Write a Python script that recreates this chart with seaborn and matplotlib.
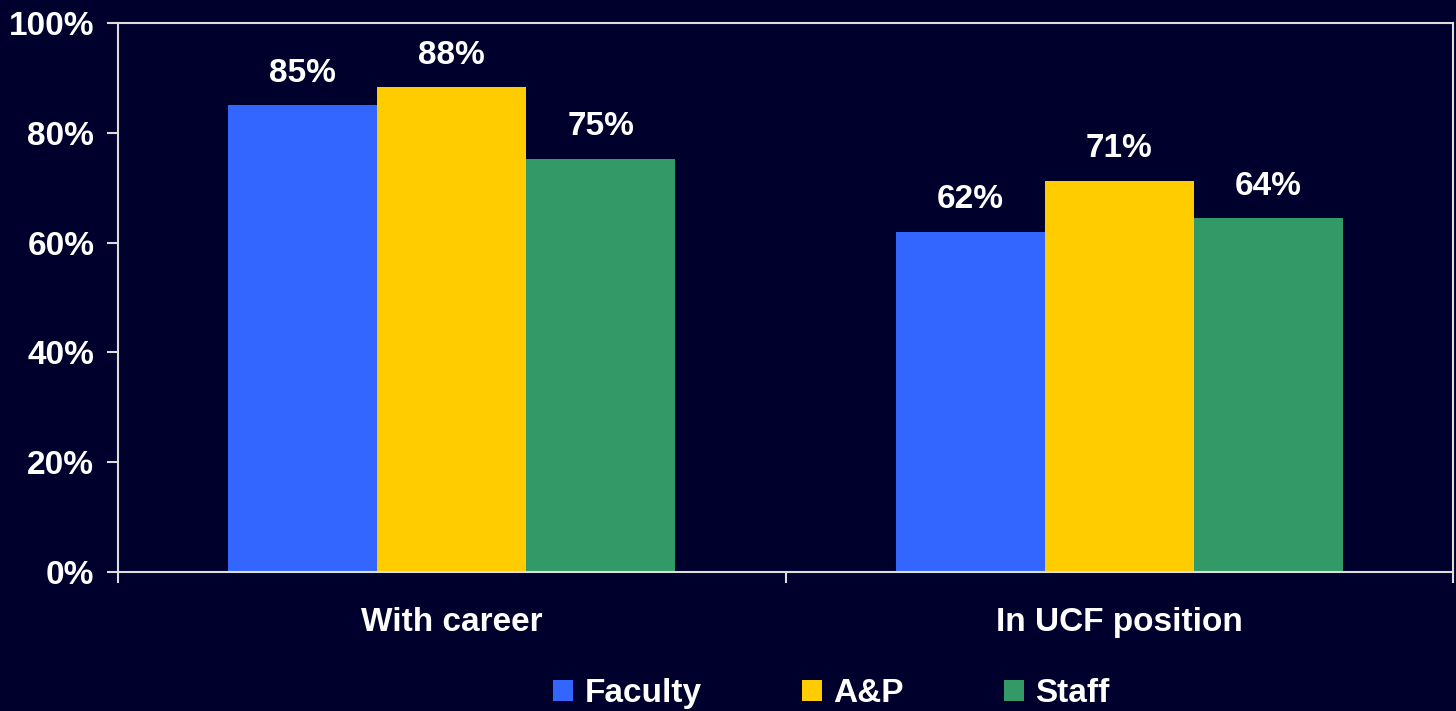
import matplotlib
matplotlib.use("Agg")
import matplotlib.pyplot as plt
import pandas as pd
import seaborn as sns
from matplotlib.ticker import PercentFormatter, FixedLocator

# Dados
groups = ["With career", "In UCF position"]
series = ["Faculty", "A&P", "Staff"]
faculty = [85.0, 61.9]
ap = [88.3, 71.2]
staff = [75.2, 64.4]
colors = ["#3366FF", "#FFCC00", "#339966"]

df = pd.DataFrame({
    "group": groups * 3,
    "series": [s for s in series for _ in groups],
    "value": faculty + ap + staff,
})

sns.set_theme(style="dark")
bg = "#00002C"
fg = "white"
fs = 24
plt.rcParams["font.family"] = ["Liberation Sans", "DejaVu Sans"]
plt.rcParams["font.weight"] = "bold"

fig = plt.figure(figsize=(14.56, 7.11), dpi=100, facecolor=bg)
ax = fig.add_axes([0.0810, 0.1955, 0.9170, 0.7722])
ax.set_facecolor(bg)

sns.barplot(data=df, x="group", y="value", hue="series", order=groups,
            hue_order=series, palette=colors, width=0.669, saturation=1,
            linewidth=0, ax=ax)

# Rótulos acima das barras
for cont in ax.containers:
    ax.bar_label(cont, labels=[f"{v:.0f}%" for v in cont.datavalues],
                 padding=12, color=fg, fontsize=fs, fontweight="bold")

ax.set_ylim(0, 100)
ax.set_xlim(-0.5, 1.5)
ax.yaxis.set_major_formatter(PercentFormatter(decimals=0))
ax.set_yticks([0, 20, 40, 60, 80, 100])
ax.grid(False)

# Ticks do eixo x nas divisões entre categorias, rótulos no centro
ax.xaxis.set_major_locator(FixedLocator([-0.5, 0.5, 1.5]))
ax.set_xticklabels(["", "", ""])
ax.xaxis.set_minor_locator(FixedLocator([0, 1]))
ax.set_xticklabels(groups, minor=True)
ax.tick_params(axis="x", which="major", length=8, width=1.5, color="#DDDDDD",
               direction="out", bottom=True)
ax.tick_params(axis="x", which="minor", length=0, pad=25, labelsize=fs,
               labelcolor=fg)
ax.tick_params(axis="y", length=8, width=1.5, color="#DDDDDD", direction="out",
               left=True, pad=9, labelsize=fs, labelcolor=fg)
for lab in ax.get_xticklabels(minor=True) + ax.get_yticklabels():
    lab.set_fontweight("bold")

for sp in ax.spines.values():
    sp.set_visible(True)
    sp.set_color("#DDDDDD")
    sp.set_linewidth(1.5)

ax.set_xlabel("")
ax.set_ylabel("")

handles, labels = ax.get_legend_handles_labels()
ax.get_legend().remove()
fig.legend(handles, labels, loc="center", bbox_to_anchor=(0.571, 0.024),
           ncol=3, frameon=False, labelcolor=fg,
           handlelength=0.6, handleheight=0.6, handletextpad=0.35,
           columnspacing=3.0, prop={"weight": "bold", "size": fs})

fig.savefig("out.png", dpi=100, facecolor=bg)
